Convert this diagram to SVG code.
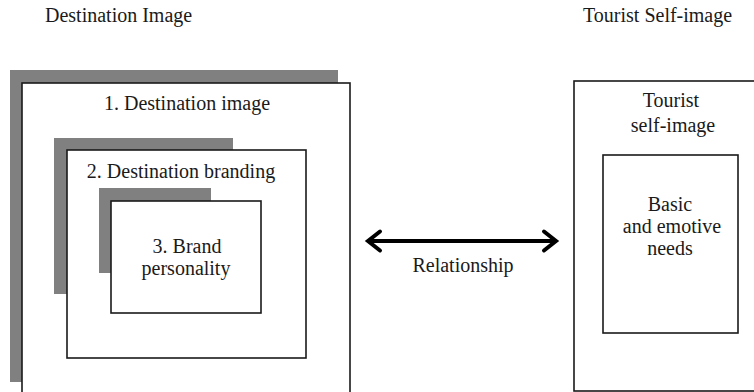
<svg xmlns="http://www.w3.org/2000/svg" width="754" height="392" viewBox="0 0 754 392">
<style>
  text { font-family: "Liberation Serif", "Times New Roman", serif; font-size: 20px; fill: #1a1a1a; text-anchor: middle; }
  .hdr { text-anchor: start; }
  .shadow { fill: #808080; stroke: none; }
  .box { fill: #ffffff; stroke: #1a1a1a; stroke-width: 1.6; }
  .conn { stroke: #000; stroke-width: 4; fill: none; }
</style>
<defs>
  <marker id="chev" markerUnits="userSpaceOnUse" markerWidth="24" markerHeight="28" viewBox="-20 -14 24 28" refX="0" refY="0" orient="auto-start-reverse">
    <path d="M-12,-9.5 L0,0 L-12,9.5" fill="none" stroke="#000" stroke-width="4" stroke-linecap="round"/>
  </marker>
</defs>
<rect width="754" height="392" fill="#ffffff"/>
<g id="header-destination"><text class="hdr" x="45" y="22">Destination Image</text></g>
<g id="header-tourist"><text class="hdr" x="583" y="22">Tourist Self-image</text></g>

<g id="destination-image">
  <rect class="shadow" x="10" y="70" width="328" height="312"/>
  <rect class="box" x="22" y="83" width="328" height="320"/>
  <text x="187" y="110">1. Destination image</text>
</g>
<g id="destination-branding">
  <rect class="shadow" x="54" y="138" width="179" height="156"/>
  <rect class="box" x="67" y="150" width="239" height="208"/>
  <text x="181" y="178">2. Destination branding</text>
</g>
<g id="brand-personality">
  <rect class="shadow" x="99" y="188" width="112" height="85"/>
  <rect class="box" x="111" y="201" width="150" height="112"/>
  <text x="187" y="253">3. Brand</text>
  <text x="186" y="275">personality</text>
</g>

<g id="tourist-self-image">
  <rect class="box" x="574" y="81" width="200" height="310"/>
  <text x="671" y="107">Tourist</text>
  <text x="673" y="132">self-image</text>
</g>
<g id="basic-needs">
  <rect class="box" x="603" y="155" width="135" height="178"/>
  <text x="670" y="211">Basic</text>
  <text x="672" y="233">and emotive</text>
  <text x="670" y="255">needs</text>
</g>

<g id="connectors">
  <line class="conn" x1="368" y1="241" x2="556" y2="241" marker-start="url(#chev)" marker-end="url(#chev)"/>
  <text x="463" y="272">Relationship</text>
</g>
</svg>
